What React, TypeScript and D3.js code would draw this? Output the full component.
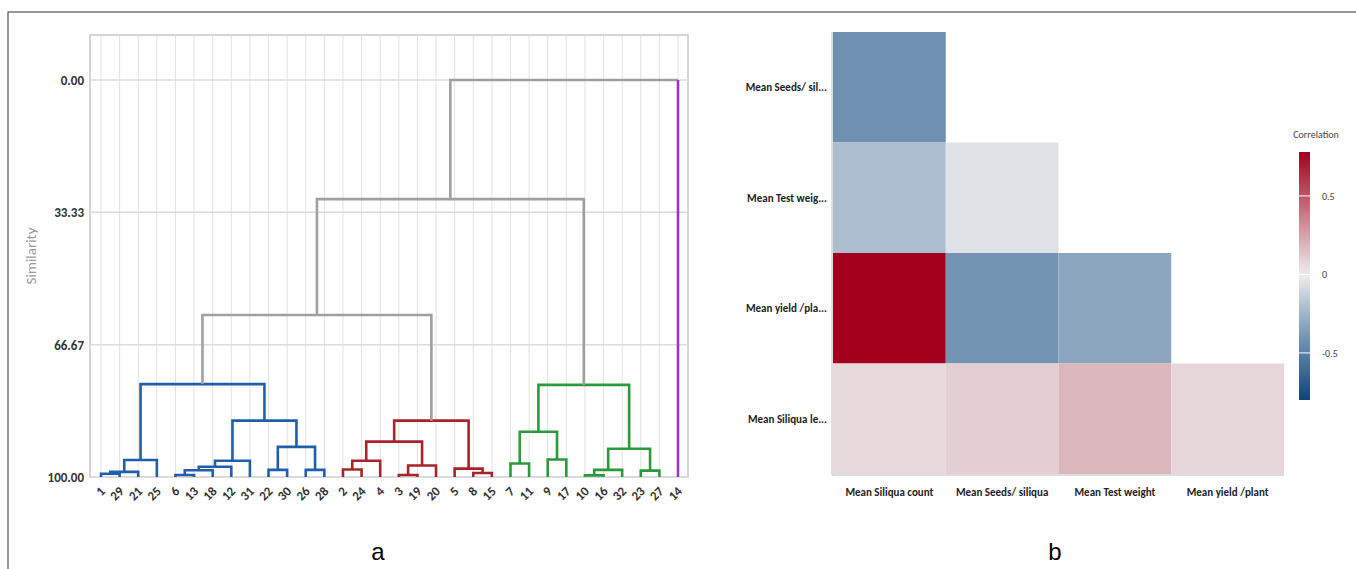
import * as d3 from "d3";

const leafOrder = [1, 29, 21, 25, 6, 13, 18, 12, 31, 22, 30, 26, 28, 2, 24, 4, 3, 19, 20, 5, 8, 15, 7, 11, 9, 17, 10, 16, 32, 23, 27, 14];
// merges: [left, right, similarity, colour]; numbers = leaves, "mN" = earlier merge N
const merges: [number | string, number | string, number, string][] = [
  [1, 29, 99.2, "b"], // m0
  ["m0", 21, 98.7, "b"], // m1
  ["m1", 25, 95.7, "b"], // m2
  [6, 13, 99.5, "b"], // m3
  ["m3", 18, 98.3, "b"], // m4
  ["m4", 12, 97.4, "b"], // m5
  ["m5", 31, 95.9, "b"], // m6
  [22, 30, 98.2, "b"], // m7
  [26, 28, 98.2, "b"], // m8
  ["m7", "m8", 92.4, "b"], // m9
  ["m6", "m9", 85.8, "b"], // m10
  ["m2", "m10", 76.6, "b"], // m11
  [2, 24, 98.1, "r"], // m12
  ["m12", 4, 95.9, "r"], // m13
  [3, 19, 99.5, "r"], // m14
  ["m14", 20, 97.1, "r"], // m15
  ["m13", "m15", 91.1, "r"], // m16
  [8, 15, 99.0, "r"], // m17
  [5, "m17", 97.9, "r"], // m18
  ["m16", "m18", 85.8, "r"], // m19
  [7, 11, 96.6, "g"], // m20
  [9, 17, 95.6, "g"], // m21
  ["m20", "m21", 88.6, "g"], // m22
  [10, 16, 99.6, "g"], // m23
  ["m23", 32, 98.2, "g"], // m24
  [23, 27, 98.4, "g"], // m25
  ["m24", "m25", 92.9, "g"], // m26
  ["m22", "m26", 76.8, "g"], // m27
  ["m11", "m19", 59.2, "k"], // m28
  ["m28", "m27", 30.0, "k"], // m29
  ["m29", 14, 0, "k"], // m30
];
const simTicks = [0, 33.33, 66.67, 100];

const hmCols = ["Mean Siliqua count", "Mean Seeds/ siliqua", "Mean Test weight", "Mean yield /plant"];
const hmRows = ["Mean Seeds/ sil...", "Mean Test weig...", "Mean yield /pla...", "Mean Siliqua le..."];
const hmValues = [
  [-0.42],
  [-0.22, -0.05],
  [0.78, -0.4, -0.32],
  [0.07, 0.1, 0.18, 0.08],
];
const legendTicks = [0.5, 0, -0.5];

const colours: Record<string, string> = { b: "#1f5fae", r: "#a8242a", g: "#2a9a3a", k: "#a0a0a0" };

export default function App() {
  const x = d3.scalePoint<number>().domain(leafOrder).range([101, 678]);
  const y = d3.scaleLinear().domain([0, 100]).range([80, 477]);

  const pos: Record<string, { x: number; s: number }> = {};
  leafOrder.forEach((l) => (pos[String(l)] = { x: x(l)!, s: 100 }));
  const segs: { d: string; c: string }[] = [];
  merges.forEach(([a, b, s, c], i) => {
    const pa = pos[String(a)], pb = pos[String(b)];
    if (b === 14) {
      segs.push({ d: `M${pa.x},${y(pa.s)}V${y(s)}H${pb.x}`, c: colours[c] });
      segs.push({ d: `M${pb.x},${y(pb.s)}V${y(s)}`, c: "#a030d0" });
    } else {
      segs.push({ d: `M${pa.x},${y(pa.s)}V${y(s)}H${pb.x}V${y(pb.s)}`, c: colours[c] });
    }
    pos["m" + i] = { x: (pa.x + pb.x) / 2, s };
  });

  const cx = d3.scaleBand().domain(hmCols).range([833, 1284]);
  const cy = d3.scaleBand().domain(hmRows).range([32, 474]);
  const color = d3.scaleLinear<string>().domain([-0.8, -0.4, 0, 0.78]).range(["#0f4478", "#7494b3", "#eeeeee", "#a3001e"]);
  const ly = d3.scaleLinear().domain([-0.8, 0.78]).range([400, 152]);
  const grad = d3.range(0, 1.0001, 0.05).map((t) => ({ t, c: color(-0.8 + t * 1.58) }));

  return (
    <svg width={1356} height={569} style={{ position: "absolute", left: 0, top: 0, background: "#fff" }} fontFamily="Calibri, 'Liberation Sans', Arial">
      <defs>
        <linearGradient id="lg" x1="0" y1="1" x2="0" y2="0">
          {grad.map((g) => <stop key={g.t} offset={g.t} stopColor={g.c} />)}
        </linearGradient>
      </defs>
      <rect x={8} y={12} width={1360} height={570} fill="none" stroke="#333" />
      {/* dendrogram */}
      <rect x={90} y={35} width={598} height={442} fill="#fff" stroke="#c8c8c8" strokeWidth={1.5} />
      {leafOrder.map((l) => <line key={"g" + l} x1={x(l)} x2={x(l)} y1={35} y2={477} stroke="#e2e2e2" />)}
      {simTicks.map((t) => (
        <g key={t}>
          <line x1={90} x2={688} y1={y(t)} y2={y(t)} stroke="#dcdcdc" strokeWidth={1.5} />
          <text x={84} y={y(t) + 5} textAnchor="end" fontSize={13} fontWeight="bold" fill="#333">{t.toFixed(2)}</text>
        </g>
      ))}
      <text transform="translate(36,256) rotate(-90)" textAnchor="middle" fontSize={15} fill="#999">Similarity</text>
      {segs.map((s, i) => <path key={i} d={s.d} fill="none" stroke={s.c} strokeWidth={2.6} />)}
      {leafOrder.map((l) => (
        <text key={l} transform={`translate(${x(l)! + 5},${492}) rotate(-45)`} textAnchor="end" fontSize={13} fontWeight="bold" fill="#333">{l}</text>
      ))}
      <text x={378} y={560} textAnchor="middle" fontSize={24} fill="#000" fontFamily="'Liberation Sans', Arial">a</text>
      {/* heatmap */}
      <line x1={832} x2={832} y1={32} y2={475} stroke="#bbb" />
      <line x1={832} x2={1284} y1={475} y2={475} stroke="#bbb" />
      {hmValues.map((row, r) => row.map((v, c) => (
        <rect key={`${r}-${c}`} x={cx(hmCols[c])} y={cy(hmRows[r])} width={cx.bandwidth()} height={cy.bandwidth()} fill={color(v)} />
      )))}
      {hmRows.map((r) => (
        <text key={r} x={827} y={cy(r)! + cy.bandwidth() / 2 + 4} textAnchor="end" fontSize={11} fontWeight="bold" fill="#222">{r}</text>
      ))}
      {hmCols.map((c) => (
        <text key={c} x={cx(c)! + cx.bandwidth() / 2} y={496} textAnchor="middle" fontSize={11} fontWeight="bold" fill="#222">{c}</text>
      ))}
      <text x={1316} y={138} textAnchor="middle" fontSize={10} fill="#444">Correlation</text>
      <rect x={1299} y={152} width={11} height={248} fill="url(#lg)" />
      {legendTicks.map((t) => (
        <g key={t}>
          <line x1={1299} x2={1310} y1={ly(t)} y2={ly(t)} stroke="#fff" />
          <text x={1322} y={ly(t) + 4} fontSize={10} fill="#444">{t}</text>
        </g>
      ))}
      <text x={1055} y={560} textAnchor="middle" fontSize={24} fill="#000" fontFamily="'Liberation Sans', Arial">b</text>
    </svg>
  );
}
